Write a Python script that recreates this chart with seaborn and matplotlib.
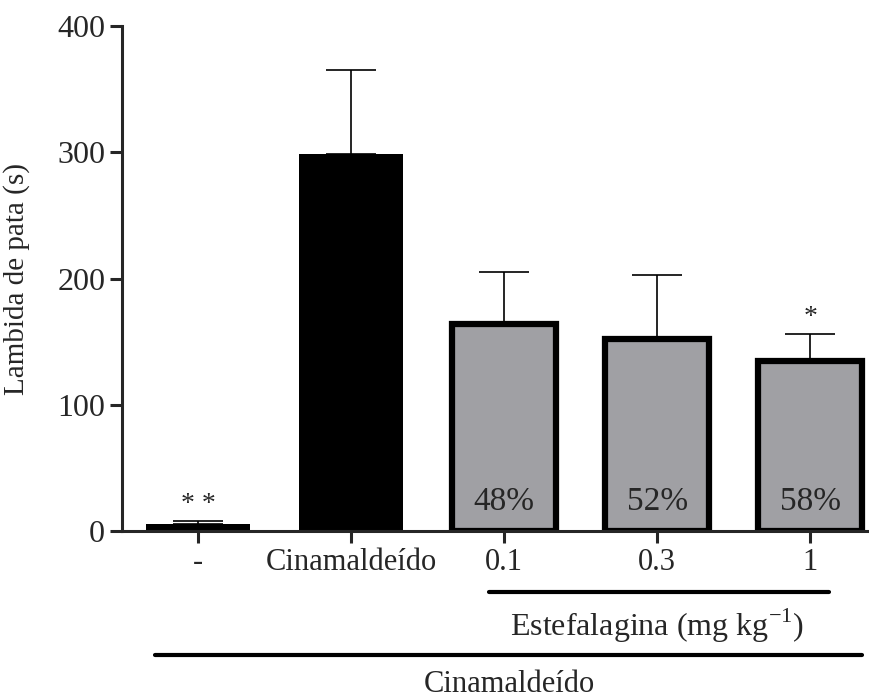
import pandas as pd
import matplotlib.pyplot as plt
import seaborn as sns

# values
groups = ["-", "Cinamaldeído", "0.1", "0.3", "1"]
means = [6, 299, 164, 152, 135]
upper_err = [2, 66, 41, 51, 21]
bar_colors = ["black", "black", "#a0a0a4", "#a0a0a4", "#a0a0a4"]
inhibition = ["", "", "48%", "52%", "58%"]
signif = ["* *", "", "", "", "*"]

df = pd.DataFrame({"grupo": groups, "lambida": means})

sns.set_style("ticks")
plt.rcParams['font.family'] = ['Liberation Serif', 'DejaVu Serif']
plt.rcParams['mathtext.fontset'] = 'custom'
plt.rcParams['mathtext.rm'] = 'Liberation Serif'

fig = plt.figure(figsize=(8.7, 6.98), dpi=100)
ax = fig.add_axes([0.140, 0.239, 0.86, 0.7237])

sns.barplot(data=df, x="grupo", y="lambida", hue="grupo", palette=bar_colors,
            legend=False, width=0.68, saturation=1, ax=ax)

# thick black border on the grey bars
for i, patch in enumerate(ax.patches):
    if i >= 2:
        patch.set_edgecolor("black")
        patch.set_linewidth(4.5)
    else:
        patch.set_linewidth(0)

ax.errorbar(range(len(groups)), means, yerr=[[0] * len(groups), upper_err],
            fmt="none", ecolor="black", elinewidth=1.2, capsize=18,
            capthick=1.2, zorder=0.5)

for i, t in enumerate(inhibition):
    if t:
        ax.text(i, 11, t, ha="center", va="bottom", fontsize=24)
for i, s in enumerate(signif):
    if s:
        ax.text(i, means[i] + upper_err[i] + 3, s, ha="center", va="bottom",
                fontsize=20)

ax.set_ylim(0, 400)
ax.set_xlim(-0.5, 4.39)
ax.set_yticks([0, 100, 200, 300, 400])
ax.set_xlabel("")
ax.set_ylabel("Lambida de pata (s)", fontsize=21)
ax.yaxis.set_label_coords(-0.123, 0.5)
ax.tick_params(axis="both", width=2.2, length=8.5)
ax.tick_params(axis="y", labelsize=23)
ax.tick_params(axis="x", labelsize=22)
for sp in ["left", "bottom"]:
    ax.spines[sp].set_linewidth(2.2)
sns.despine(ax=ax)

# group lines and labels under the axis
ax.plot([2 - 0.1, 4.12], [-48, -48], color="black", lw=3, clip_on=False)
ax.text(3, -60, "Estefalagina (mg kg$^{\\mathregular{-1}}$)", ha="center",
        va="top", fontsize=23)
ax.plot([-0.28, 4.34], [-98, -98], color="black", lw=3, clip_on=False)
ax.text(2.03, -110, "Cinamaldeído", ha="center", va="top", fontsize=22)

fig.savefig("out.png")
